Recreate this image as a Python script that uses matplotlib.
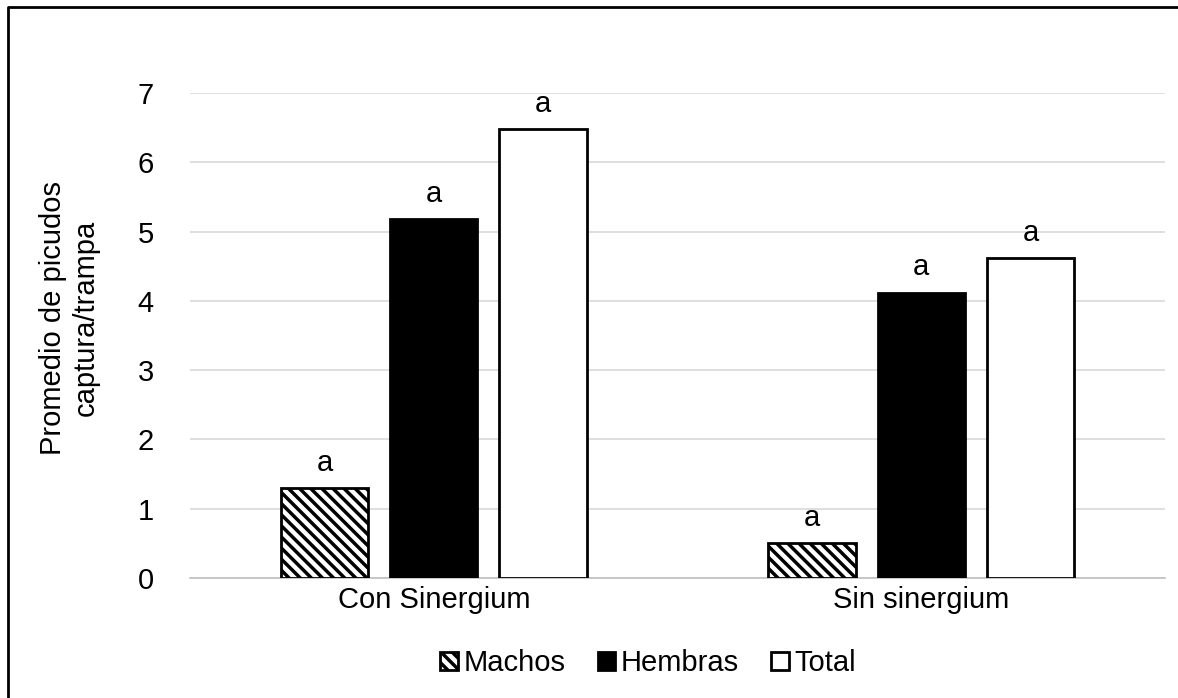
import matplotlib.pyplot as plt
import matplotlib.lines as mlines
import numpy as np

plt.rcParams['font.family'] = ['Liberation Sans', 'DejaVu Sans']
plt.rcParams['hatch.linewidth'] = 2.5

categories = ['Con Sinergium', 'Sin sinergium']
series = ['Machos', 'Hembras', 'Total']
machos = [1.3, 0.5]
hembras = [5.18, 4.12]
total = [6.48, 4.62]
letters = ['a', 'a']

fs = 21

fig = plt.figure(figsize=(11.78, 6.98), dpi=100)
ax = fig.add_axes([0.1613, 0.172, 0.8277, 0.6948])

x = np.arange(len(categories))
w = 0.179
off = 0.224

styles = [
    dict(facecolor='white', edgecolor='black', hatch='\\\\\\'),
    dict(facecolor='black', edgecolor='black'),
    dict(facecolor='white', edgecolor='black'),
]

for i, (vals, st) in enumerate(zip([machos, hembras, total], styles)):
    pos = x + (i - 1) * off
    ax.bar(pos, vals, w, linewidth=2, label=series[i], zorder=3, **st)
    for p, v, l in zip(pos, vals, letters):
        ax.text(p, v + 0.16, l, ha='center', va='bottom', fontsize=fs)

ax.set_xlim(-0.5, 1.5)
ax.set_ylim(0, 7)
ax.set_yticks(range(8))
ax.set_xticks(x)
ax.set_xticklabels(categories)
ax.tick_params(axis='both', length=0, labelsize=fs)
ax.tick_params(axis='x', pad=6)
ax.tick_params(axis='y', pad=26)
ax.yaxis.grid(True, color='#d9d9d9', linewidth=1.2, zorder=0)
ax.set_axisbelow(True)
for s in ['top', 'right', 'left']:
    ax.spines[s].set_visible(False)
ax.spines['bottom'].set_color('#bfbfbf')
ax.spines['bottom'].set_linewidth(1.2)

ax.set_ylabel('Promedio de picudos\ncaptura/trampa', fontsize=fs)
ax.yaxis.set_label_coords(-0.093, 0.537)

ax.legend(loc='upper center', bbox_to_anchor=(0.47, -0.093), ncol=3, frameon=False,
          fontsize=fs, handlelength=0.6, handleheight=0.6, handletextpad=0.2,
          columnspacing=1.1)

# only the left and top edges of the outer box are visible
fig.lines.append(mlines.Line2D([0.0072, 0.0072, 1.0], [0.0, 0.99, 0.99], transform=fig.transFigure,
                               color='black', linewidth=2))

fig.savefig('out.png', dpi=100)
